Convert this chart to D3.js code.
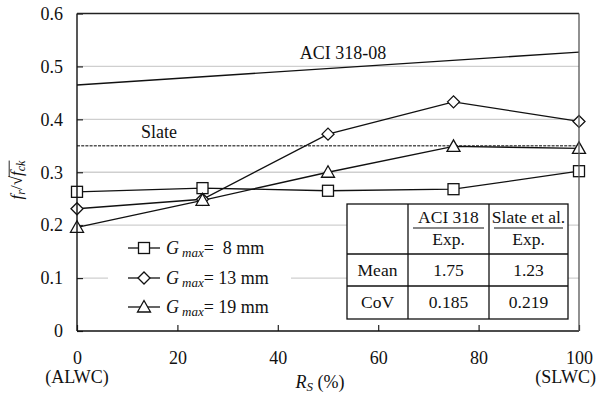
<!DOCTYPE html>
<html>
<head>
<meta charset="utf-8">
<script src="https://cdn.jsdelivr.net/npm/d3@7"></script>
<style>
  html, body { margin: 0; padding: 0; background: #fff; }
  svg { display: block; }
  svg text { white-space: pre; }
</style>
</head>
<body>
<svg id="chart" width="597" height="403" font-family="Liberation Serif" fill="#111"></svg>
<script>
// Replacement ratio of sand (%) and normalised flexural strength
const rsValues = [0, 25, 50, 75, 100];
const g8 = [0.263, 0.270, 0.265, 0.268, 0.302];
const g13 = [0.231, 0.249, 0.372, 0.433, 0.396];
const g19 = [0.196, 0.247, 0.300, 0.349, 0.345];
const seriesNames = ["8", "13", "19"];

// Code equations
const aciRs = [0, 100];
const aciValues = [0.465, 0.527];
const slateValue = 0.35;

// Axis ticks
const xTicks = [0, 20, 40, 60, 80, 100];
const yTicks = [0, 0.1, 0.2, 0.3, 0.4, 0.5, 0.6];
const gridTicks = [0.1, 0.2, 0.3, 0.4, 0.5];

// Statistics table
const tableHead = ["ACI 318", "Slate et al."];
const tableSub = ["Exp.", "Exp."];
const tableRows = [["Mean", "1.75", "1.23"], ["CoV", "0.185", "0.219"]];

const FONT = "Liberation Serif";
const svg = d3.select("#chart");
const L = 77, R = 579, T = 13.5, B = 331;
const x = d3.scaleLinear().domain([0, 100]).range([L, R]);
const y = d3.scaleLinear().domain([0, 0.6]).range([B, T]);

function label(parent, px, py, size, str, anchor) {
  return parent.append("text").attr("x", px).attr("y", py)
    .attr("font-family", FONT).attr("font-size", size)
    .attr("text-anchor", anchor || "start").attr("fill", "#111").text(str);
}

// gridlines
svg.append("g").selectAll("line").data(gridTicks).join("line")
  .attr("x1", L).attr("x2", R)
  .attr("y1", d => y(d)).attr("y2", d => y(d))
  .attr("stroke", "#cfcfcf").attr("stroke-width", 1.4);

// axes with inward ticks
const xAxis = svg.append("g").attr("transform", `translate(0,${B})`)
  .call(d3.axisBottom(x).tickValues(xTicks).tickSizeInner(-6).tickSizeOuter(0).tickPadding(20).tickFormat(d3.format("d")));
const yAxis = svg.append("g").attr("transform", `translate(${L},0)`)
  .call(d3.axisLeft(y).tickValues(yTicks).tickSizeInner(-6).tickSizeOuter(0).tickPadding(14)
    .tickFormat(d => d === 0 ? "0" : d3.format(".1f")(d)));
[xAxis, yAxis].forEach(a => {
  a.attr("font-family", FONT).attr("font-size", 18);
  a.select(".domain").remove();
  a.selectAll(".tick line").attr("stroke", "#222").attr("stroke-width", 1.2);
  a.selectAll(".tick text").attr("font-family", FONT).attr("font-size", 18).attr("fill", "#111");
});

// ACI 318-08 line
const line = d3.line().x(d => x(d[0])).y(d => y(d[1]));
svg.append("path").datum(aciRs.map((r, i) => [r, aciValues[i]]))
  .attr("d", line).attr("fill", "none").attr("stroke", "#111").attr("stroke-width", 1.4);
label(svg, 343, 59, 18, "ACI 318-08", "middle");

// Slate line
svg.append("path").datum([[0, slateValue], [100, slateValue]])
  .attr("d", line).attr("fill", "none").attr("stroke", "#555").attr("stroke-width", 1.6)
  .attr("stroke-dasharray", "3,1.2");
label(svg, 141, 137.5, 18, "Slate");

// legend background
svg.append("rect").attr("x", 108).attr("y", 230).attr("width", 183).attr("height", 92).attr("fill", "#fff");

// marker shapes
function marker(g, kind, cx, cy) {
  if (kind === 0) {
    g.append("rect").attr("x", cx - 5.5).attr("y", cy - 5.5).attr("width", 11).attr("height", 11);
  } else if (kind === 1) {
    g.append("path").attr("d", `M${cx - 6},${cy}L${cx},${cy - 6}L${cx + 6},${cy}L${cx},${cy + 6}Z`);
  } else {
    g.append("path").attr("d", `M${cx},${cy - 6.5}L${cx + 6.5},${cy + 5}L${cx - 6.5},${cy + 5}Z`);
  }
}

const series = [g8, g13, g19];
const dataSets = series.map(s => rsValues.map((r, i) => [r, s[i]]));
dataSets.forEach(ds => {
  svg.append("path").datum(ds).attr("d", line).attr("fill", "none")
    .attr("stroke", "#111").attr("stroke-width", 1.3);
});
dataSets.forEach((ds, k) => {
  const g = svg.append("g").attr("fill", "#fff").attr("stroke", "#111").attr("stroke-width", 1.3);
  ds.forEach(d => marker(g, k, x(d[0]), y(d[1])));
});

// legend entries
const legendY = [248, 278, 307];
seriesNames.forEach((name, k) => {
  const ly = legendY[k];
  svg.append("line").attr("x1", 128).attr("x2", 160).attr("y1", ly).attr("y2", ly)
    .attr("stroke", "#111").attr("stroke-width", 1.3);
  const g = svg.append("g").attr("fill", "#fff").attr("stroke", "#111").attr("stroke-width", 1.3);
  marker(g, k, 144, ly);
  const t = label(svg, 166, ly + 6, 18, null);
  t.append("tspan").attr("font-style", "italic").text("G");
  t.append("tspan").attr("font-style", "italic").attr("font-size", 13).attr("dx", 3).attr("dy", 3).text("max");
  t.append("tspan").attr("dy", -3).text(name.length === 1 ? "=  " + name + " mm" : "= " + name + " mm");
});

// statistics table
const tx = [347, 408, 489, 568];
const ty = [204, 254, 286, 319];
const tg = svg.append("g");
tg.append("rect").attr("x", tx[0]).attr("y", ty[0]).attr("width", tx[3] - tx[0]).attr("height", ty[3] - ty[0])
  .attr("fill", "#fff").attr("stroke", "#111").attr("stroke-width", 1.3);
[tx[1], tx[2]].forEach(vx => tg.append("line").attr("x1", vx).attr("x2", vx).attr("y1", ty[0]).attr("y2", ty[3])
  .attr("stroke", "#111").attr("stroke-width", 1.3));
[ty[1], ty[2]].forEach(hy => tg.append("line").attr("x1", tx[0]).attr("x2", tx[3]).attr("y1", hy).attr("y2", hy)
  .attr("stroke", "#111").attr("stroke-width", 1.3));
tableHead.forEach((h, i) => {
  const cx = (tx[i + 1] + tx[i + 2]) / 2;
  label(tg, cx, 223, 17.5, h, "middle");
  tg.append("line").attr("x1", tx[i + 1] + 5).attr("x2", tx[i + 2] - 5).attr("y1", 228).attr("y2", 228)
    .attr("stroke", "#111").attr("stroke-width", 1.2);
  label(tg, cx, 245, 17.5, tableSub[i], "middle");
});
tableRows.forEach((row, r) => {
  row.forEach((v, c) => {
    label(tg, (tx[c] + tx[c + 1]) / 2, r === 0 ? 276 : 308, 17.5, v, "middle");
  });
});

// plot frame
svg.append("line").attr("x1", L).attr("x2", L).attr("y1", T).attr("y2", B).attr("stroke", "#111").attr("stroke-width", 1.4);
svg.append("line").attr("x1", L).attr("x2", R).attr("y1", B).attr("y2", B).attr("stroke", "#111").attr("stroke-width", 1.4);
svg.append("line").attr("x1", L).attr("x2", R).attr("y1", T).attr("y2", T).attr("stroke", "#222").attr("stroke-width", 1.3);
svg.append("line").attr("x1", R).attr("x2", R).attr("y1", T).attr("y2", B).attr("stroke", "#555").attr("stroke-width", 1.3);

// category notes under the x axis
label(svg, x(0), 383, 18, "(ALWC)", "middle");
label(svg, 596, 383, 18, "(SLWC)", "end");

// x axis title
const xt = label(svg, 320, 388, 18, null, "middle");
xt.append("tspan").attr("font-style", "italic").text("R");
xt.append("tspan").attr("font-style", "italic").attr("font-size", 13).attr("dy", 3).text("S");
xt.append("tspan").attr("dy", -3).text(" (%)");

// y axis title: f_r / sqrt(f_ck), with the radical bar drawn over f_ck
const yg = svg.append("g").attr("transform", "translate(22,180) rotate(-90)");
const yt = label(yg, 0, 0, 17, null, "middle");
yt.append("tspan").attr("font-style", "italic").text("f");
yt.append("tspan").attr("font-style", "italic").attr("font-size", 12).attr("dy", 3).text("r");
yt.append("tspan").attr("dy", -3).text("/√");
yt.append("tspan").attr("font-style", "italic").text("f");
yt.append("tspan").attr("font-style", "italic").attr("font-size", 12).attr("dy", 3).text("ck");
const node = yt.node();
const barStart = node.getStartPositionOfChar(4).x;
const barEnd = node.getEndPositionOfChar(6).x;
yg.append("line").attr("x1", barStart - 1).attr("x2", barEnd)
  .attr("y1", -12.8).attr("y2", -12.8).attr("stroke", "#111").attr("stroke-width", 0.9);
</script>
</body>
</html>
